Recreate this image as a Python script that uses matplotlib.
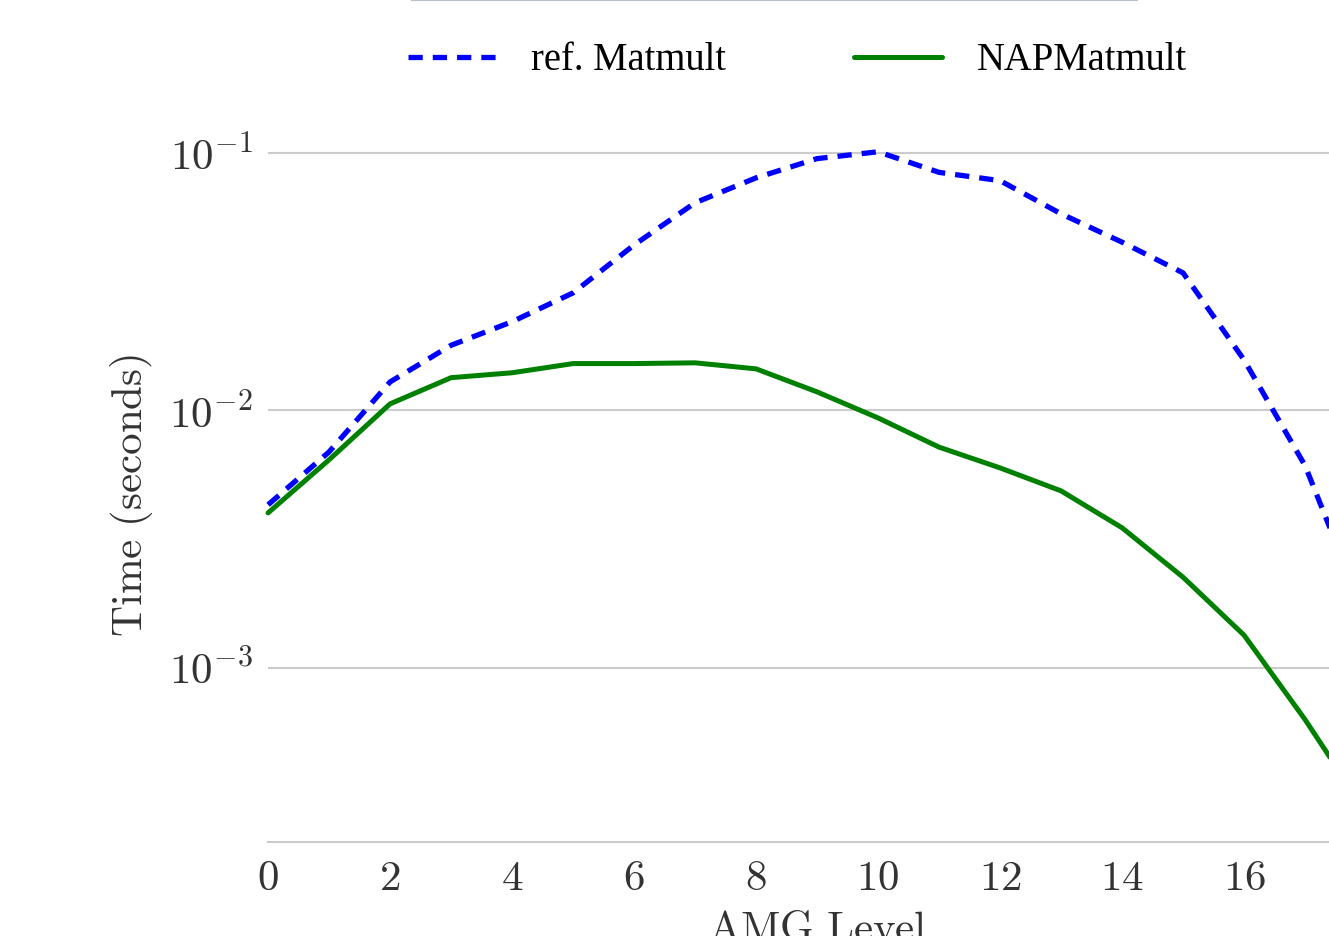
import matplotlib
matplotlib.use("Agg")
import matplotlib.pyplot as plt
from matplotlib.lines import Line2D
from matplotlib.ticker import NullLocator

levels = list(range(19))
ref_matmult = [4.3e-3, 6.9e-3, 1.29e-2, 1.79e-2, 2.21e-2, 2.86e-2, 4.39e-2,
               6.4e-2, 8.0e-2, 9.5e-2, 1.01e-1, 8.4e-2, 7.8e-2, 5.8e-2,
               4.5e-2, 3.42e-2, 1.57e-2, 6.1e-3, 1.56e-3]
nap_matmult = [4.0e-3, 6.43e-3, 1.06e-2, 1.34e-2, 1.40e-2, 1.52e-2, 1.52e-2,
               1.53e-2, 1.45e-2, 1.18e-2, 9.35e-3, 7.2e-3, 5.98e-3, 4.87e-3,
               3.5e-3, 2.25e-3, 1.34e-3, 6.3e-4, 2.76e-4]
x_ticks = list(range(0, 19, 2))
y_ticks = [1e-3, 1e-2, 1e-1]
y_tick_labels = [r"$10^{-3}$", r"$10^{-2}$", r"$10^{-1}$"]

plt.rcParams["mathtext.fontset"] = "cm"
text_color = "#333333"

fig = plt.figure(figsize=(13.29, 9.36), dpi=100)
# axes deliberately runs past the right edge of the figure
ax = fig.add_axes([0.2017, 0.1004, 0.8262, 0.7415])

ax.plot(levels, ref_matmult, color="blue", lw=3.8, dashes=(2.7, 1.9),
        label="ref. Matmult", clip_on=False)
ax.plot(levels, nap_matmult, color="green", lw=3.6, solid_capstyle="round",
        label="NAPMatmult", clip_on=False)

ax.set_yscale("log")
ax.set_xlim(0, 18)
ax.set_ylim(10 ** -3.676, 10 ** -0.981)
ax.set_yticks(y_ticks, y_tick_labels)
ax.yaxis.set_minor_locator(NullLocator())
ax.set_xticks(x_ticks, [f"${t}$" for t in x_ticks])

ax.grid(True, axis="y", color="#cccccc", lw=1.5)
ax.grid(False, axis="x")
ax.set_axisbelow(True)
for side in ("left", "top", "right"):
    ax.spines[side].set_visible(False)
ax.spines["bottom"].set_color("#cccccc")
ax.spines["bottom"].set_linewidth(1.5)
ax.tick_params(length=0, labelsize=31, labelcolor=text_color, pad=11)

ax.set_xlabel(r"$\mathrm{AMG\ Level}$", fontsize=31, color=text_color,
              labelpad=6)
ax.set_ylabel(r"$\mathrm{Time\ (seconds)}$", fontsize=31, color=text_color,
              labelpad=10)

fig.legend(loc="center", bbox_to_anchor=(0.6, 0.935), ncol=2,
           frameon=False, handlelength=2.3, handletextpad=0.9,
           columnspacing=3.3, prop={"family": "Liberation Serif", "size": 27.8})

# edge of the box that sits above this crop
fig.add_artist(Line2D([412 / 1329, 1137 / 1329], [0.9995, 0.9995],
                      color="#b8bfcc", lw=1.5, transform=fig.transFigure))

fig.savefig("out.png", dpi=100)
